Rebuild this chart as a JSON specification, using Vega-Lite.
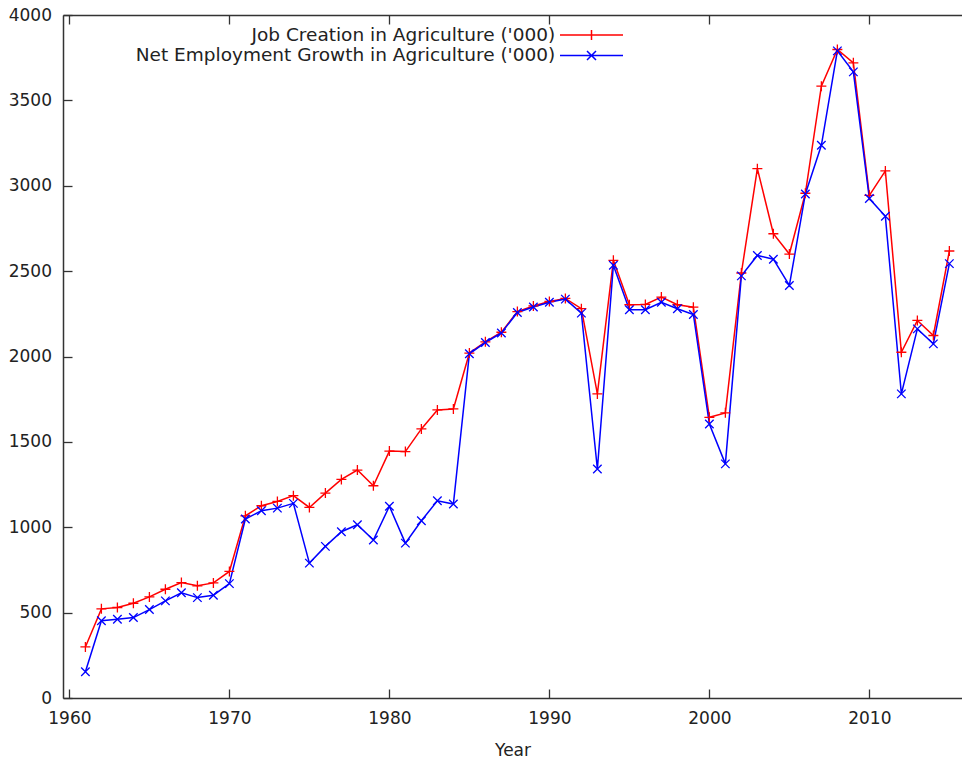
{
  "$schema": "https://vega.github.io/schema/vega-lite/v6.json",
  "width": 899,
  "height": 683,
  "autosize": {"type": "none"},
  "padding": {"left": 63, "top": 15, "right": 0, "bottom": 61},
  "background": "white",
  "config": {
    "view": {"stroke": null},
    "font": "DejaVu Sans",
    "axis": {
      "grid": false,
      "domainColor": "#333333",
      "domainWidth": 1.5,
      "tickColor": "#333333",
      "tickWidth": 1.3,
      "tickSize": -9,
      "labelFont": "DejaVu Sans",
      "labelFontSize": 17,
      "labelColor": "#222222",
      "titleFont": "DejaVu Sans",
      "titleFontSize": 17,
      "titleFontWeight": "normal",
      "titleColor": "#222222"
    }
  },
  "datasets": {
    "agri": [
      {"year": 1961, "series": "Job Creation in Agriculture ('000)", "value": 299},
      {"year": 1962, "series": "Job Creation in Agriculture ('000)", "value": 522},
      {"year": 1963, "series": "Job Creation in Agriculture ('000)", "value": 530},
      {"year": 1964, "series": "Job Creation in Agriculture ('000)", "value": 555},
      {"year": 1965, "series": "Job Creation in Agriculture ('000)", "value": 592},
      {"year": 1966, "series": "Job Creation in Agriculture ('000)", "value": 637},
      {"year": 1967, "series": "Job Creation in Agriculture ('000)", "value": 676},
      {"year": 1968, "series": "Job Creation in Agriculture ('000)", "value": 657},
      {"year": 1969, "series": "Job Creation in Agriculture ('000)", "value": 674},
      {"year": 1970, "series": "Job Creation in Agriculture ('000)", "value": 741},
      {"year": 1971, "series": "Job Creation in Agriculture ('000)", "value": 1067},
      {"year": 1972, "series": "Job Creation in Agriculture ('000)", "value": 1126},
      {"year": 1973, "series": "Job Creation in Agriculture ('000)", "value": 1151},
      {"year": 1974, "series": "Job Creation in Agriculture ('000)", "value": 1185},
      {"year": 1975, "series": "Job Creation in Agriculture ('000)", "value": 1116},
      {"year": 1976, "series": "Job Creation in Agriculture ('000)", "value": 1200},
      {"year": 1977, "series": "Job Creation in Agriculture ('000)", "value": 1280},
      {"year": 1978, "series": "Job Creation in Agriculture ('000)", "value": 1335},
      {"year": 1979, "series": "Job Creation in Agriculture ('000)", "value": 1243},
      {"year": 1980, "series": "Job Creation in Agriculture ('000)", "value": 1446},
      {"year": 1981, "series": "Job Creation in Agriculture ('000)", "value": 1443},
      {"year": 1982, "series": "Job Creation in Agriculture ('000)", "value": 1576},
      {"year": 1983, "series": "Job Creation in Agriculture ('000)", "value": 1687},
      {"year": 1984, "series": "Job Creation in Agriculture ('000)", "value": 1693},
      {"year": 1985, "series": "Job Creation in Agriculture ('000)", "value": 2020},
      {"year": 1986, "series": "Job Creation in Agriculture ('000)", "value": 2086},
      {"year": 1987, "series": "Job Creation in Agriculture ('000)", "value": 2142},
      {"year": 1988, "series": "Job Creation in Agriculture ('000)", "value": 2263},
      {"year": 1989, "series": "Job Creation in Agriculture ('000)", "value": 2296},
      {"year": 1990, "series": "Job Creation in Agriculture ('000)", "value": 2322},
      {"year": 1991, "series": "Job Creation in Agriculture ('000)", "value": 2340},
      {"year": 1992, "series": "Job Creation in Agriculture ('000)", "value": 2280},
      {"year": 1993, "series": "Job Creation in Agriculture ('000)", "value": 1781},
      {"year": 1994, "series": "Job Creation in Agriculture ('000)", "value": 2563},
      {"year": 1995, "series": "Job Creation in Agriculture ('000)", "value": 2303},
      {"year": 1996, "series": "Job Creation in Agriculture ('000)", "value": 2305},
      {"year": 1997, "series": "Job Creation in Agriculture ('000)", "value": 2348},
      {"year": 1998, "series": "Job Creation in Agriculture ('000)", "value": 2303},
      {"year": 1999, "series": "Job Creation in Agriculture ('000)", "value": 2289},
      {"year": 2000, "series": "Job Creation in Agriculture ('000)", "value": 1644},
      {"year": 2001, "series": "Job Creation in Agriculture ('000)", "value": 1670},
      {"year": 2002, "series": "Job Creation in Agriculture ('000)", "value": 2489},
      {"year": 2003, "series": "Job Creation in Agriculture ('000)", "value": 3100},
      {"year": 2004, "series": "Job Creation in Agriculture ('000)", "value": 2719},
      {"year": 2005, "series": "Job Creation in Agriculture ('000)", "value": 2600},
      {"year": 2006, "series": "Job Creation in Agriculture ('000)", "value": 2956},
      {"year": 2007, "series": "Job Creation in Agriculture ('000)", "value": 3583},
      {"year": 2008, "series": "Job Creation in Agriculture ('000)", "value": 3798},
      {"year": 2009, "series": "Job Creation in Agriculture ('000)", "value": 3720},
      {"year": 2010, "series": "Job Creation in Agriculture ('000)", "value": 2944},
      {"year": 2011, "series": "Job Creation in Agriculture ('000)", "value": 3087},
      {"year": 2012, "series": "Job Creation in Agriculture ('000)", "value": 2025},
      {"year": 2013, "series": "Job Creation in Agriculture ('000)", "value": 2211},
      {"year": 2014, "series": "Job Creation in Agriculture ('000)", "value": 2123},
      {"year": 2015, "series": "Job Creation in Agriculture ('000)", "value": 2618},
      {"year": 1961, "series": "Net Employment Growth in Agriculture ('000)", "value": 154},
      {"year": 1962, "series": "Net Employment Growth in Agriculture ('000)", "value": 452},
      {"year": 1963, "series": "Net Employment Growth in Agriculture ('000)", "value": 461},
      {"year": 1964, "series": "Net Employment Growth in Agriculture ('000)", "value": 471},
      {"year": 1965, "series": "Net Employment Growth in Agriculture ('000)", "value": 518},
      {"year": 1966, "series": "Net Employment Growth in Agriculture ('000)", "value": 569},
      {"year": 1967, "series": "Net Employment Growth in Agriculture ('000)", "value": 616},
      {"year": 1968, "series": "Net Employment Growth in Agriculture ('000)", "value": 588},
      {"year": 1969, "series": "Net Employment Growth in Agriculture ('000)", "value": 602},
      {"year": 1970, "series": "Net Employment Growth in Agriculture ('000)", "value": 670},
      {"year": 1971, "series": "Net Employment Growth in Agriculture ('000)", "value": 1048},
      {"year": 1972, "series": "Net Employment Growth in Agriculture ('000)", "value": 1097},
      {"year": 1973, "series": "Net Employment Growth in Agriculture ('000)", "value": 1112},
      {"year": 1974, "series": "Net Employment Growth in Agriculture ('000)", "value": 1140},
      {"year": 1975, "series": "Net Employment Growth in Agriculture ('000)", "value": 790},
      {"year": 1976, "series": "Net Employment Growth in Agriculture ('000)", "value": 888},
      {"year": 1977, "series": "Net Employment Growth in Agriculture ('000)", "value": 974},
      {"year": 1978, "series": "Net Employment Growth in Agriculture ('000)", "value": 1015},
      {"year": 1979, "series": "Net Employment Growth in Agriculture ('000)", "value": 925},
      {"year": 1980, "series": "Net Employment Growth in Agriculture ('000)", "value": 1123},
      {"year": 1981, "series": "Net Employment Growth in Agriculture ('000)", "value": 907},
      {"year": 1982, "series": "Net Employment Growth in Agriculture ('000)", "value": 1038},
      {"year": 1983, "series": "Net Employment Growth in Agriculture ('000)", "value": 1155},
      {"year": 1984, "series": "Net Employment Growth in Agriculture ('000)", "value": 1136},
      {"year": 1985, "series": "Net Employment Growth in Agriculture ('000)", "value": 2016},
      {"year": 1986, "series": "Net Employment Growth in Agriculture ('000)", "value": 2082},
      {"year": 1987, "series": "Net Employment Growth in Agriculture ('000)", "value": 2138},
      {"year": 1988, "series": "Net Employment Growth in Agriculture ('000)", "value": 2258},
      {"year": 1989, "series": "Net Employment Growth in Agriculture ('000)", "value": 2290},
      {"year": 1990, "series": "Net Employment Growth in Agriculture ('000)", "value": 2318},
      {"year": 1991, "series": "Net Employment Growth in Agriculture ('000)", "value": 2336},
      {"year": 1992, "series": "Net Employment Growth in Agriculture ('000)", "value": 2254},
      {"year": 1993, "series": "Net Employment Growth in Agriculture ('000)", "value": 1341},
      {"year": 1994, "series": "Net Employment Growth in Agriculture ('000)", "value": 2534},
      {"year": 1995, "series": "Net Employment Growth in Agriculture ('000)", "value": 2274},
      {"year": 1996, "series": "Net Employment Growth in Agriculture ('000)", "value": 2274},
      {"year": 1997, "series": "Net Employment Growth in Agriculture ('000)", "value": 2318},
      {"year": 1998, "series": "Net Employment Growth in Agriculture ('000)", "value": 2280},
      {"year": 1999, "series": "Net Employment Growth in Agriculture ('000)", "value": 2246},
      {"year": 2000, "series": "Net Employment Growth in Agriculture ('000)", "value": 1605},
      {"year": 2001, "series": "Net Employment Growth in Agriculture ('000)", "value": 1371},
      {"year": 2002, "series": "Net Employment Growth in Agriculture ('000)", "value": 2472},
      {"year": 2003, "series": "Net Employment Growth in Agriculture ('000)", "value": 2592},
      {"year": 2004, "series": "Net Employment Growth in Agriculture ('000)", "value": 2570},
      {"year": 2005, "series": "Net Employment Growth in Agriculture ('000)", "value": 2416},
      {"year": 2006, "series": "Net Employment Growth in Agriculture ('000)", "value": 2952},
      {"year": 2007, "series": "Net Employment Growth in Agriculture ('000)", "value": 3237},
      {"year": 2008, "series": "Net Employment Growth in Agriculture ('000)", "value": 3790},
      {"year": 2009, "series": "Net Employment Growth in Agriculture ('000)", "value": 3667},
      {"year": 2010, "series": "Net Employment Growth in Agriculture ('000)", "value": 2925},
      {"year": 2011, "series": "Net Employment Growth in Agriculture ('000)", "value": 2821},
      {"year": 2012, "series": "Net Employment Growth in Agriculture ('000)", "value": 1781},
      {"year": 2013, "series": "Net Employment Growth in Agriculture ('000)", "value": 2162},
      {"year": 2014, "series": "Net Employment Growth in Agriculture ('000)", "value": 2074},
      {"year": 2015, "series": "Net Employment Growth in Agriculture ('000)", "value": 2544}
    ]
  },
  "data": {"name": "agri"},
  "layer": [
    {
      "mark": {"type": "line", "strokeWidth": 1.5},
      "encoding": {
        "x": {
          "field": "year", "type": "quantitative",
          "scale": {"domain": [1959.6, 2015.79], "nice": false, "zero": false},
          "axis": {"orient": "bottom", "values": [1960, 1970, 1980, 1990, 2000, 2010], "format": "d", "labelPadding": 21, "title": "Year", "titleBaseline": "alphabetic", "titleY": 57, "titleAnchor": "middle"}
        },
        "y": {
          "field": "value", "type": "quantitative",
          "scale": {"domain": [0, 4000], "nice": false},
          "axis": {"values": [0, 500, 1000, 1500, 2000, 2500, 3000, 3500, 4000], "format": "d", "labelPadding": 20.5, "title": null}
        },
        "color": {
          "field": "series", "type": "nominal",
          "scale": {"domain": ["Job Creation in Agriculture ('000)", "Net Employment Growth in Agriculture ('000)"], "range": ["#ff0000", "#0000ff"]},
          "legend": {
            "orient": "none", "legendX": 519.25, "legendY": 10.8, "title": null,
            "labelAlign": "right", "labelOffset": -45.5, "labelFont": "DejaVu Sans", "labelFontSize": 18.5, "labelColor": "#222222", "labelLimit": 600,
            "symbolType": "M-6.3,0H6.3", "symbolSize": 100, "symbolStrokeWidth": 1.5, "symbolOffset": 0,
            "rowPadding": 1.4, "padding": 0,
            "encode": {"symbols": {"update": {
              "shape": {"signal": "datum.index === 0 ? 'M-6.3,0L6.3,0M0,-1L0,1' : 'M-6.3,0L6.3,0M-0.9,-0.9L0.9,0.9M-0.9,0.9L0.9,-0.9'"},
              "fill": {"value": "transparent"},
              "stroke": {"signal": "datum.index === 0 ? '#ff0000' : '#0000ff'"},
              "strokeWidth": {"value": 1.5},
              "opacity": {"value": 1}
            }}}
          }
        }
      }
    },
    {
      "transform": [{"filter": {"field": "series", "equal": "Job Creation in Agriculture ('000)"}}],
      "mark": {"type": "point", "filled": false, "strokeWidth": 1.3, "size": 100, "opacity": 1, "shape": "M-1,0L1,0M0,-1L0,1"},
      "encoding": {
        "x": {
          "field": "year", "type": "quantitative",
          "scale": {"domain": [1959.6, 2015.79], "nice": false, "zero": false},
          "axis": {"orient": "top", "values": [1960, 1970, 1980, 1990, 2000, 2010], "labels": false, "title": null}
        },
        "y": {"field": "value", "type": "quantitative", "scale": {"domain": [0, 4000], "nice": false}},
        "color": {
          "field": "series", "type": "nominal",
          "scale": {"domain": ["Job Creation in Agriculture ('000)", "Net Employment Growth in Agriculture ('000)"], "range": ["#ff0000", "#0000ff"]},
          "legend": null
        }
      }
    },
    {
      "transform": [{"filter": {"field": "series", "equal": "Net Employment Growth in Agriculture ('000)"}}],
      "mark": {"type": "point", "filled": false, "strokeWidth": 1.3, "size": 100, "opacity": 1, "shape": "M-0.85,-0.85L0.85,0.85M-0.85,0.85L0.85,-0.85"},
      "encoding": {
        "x": {
          "field": "year", "type": "quantitative",
          "scale": {"domain": [1959.6, 2015.79], "nice": false, "zero": false},
          "axis": null
        },
        "y": {"field": "value", "type": "quantitative", "scale": {"domain": [0, 4000], "nice": false}},
        "color": {
          "field": "series", "type": "nominal",
          "scale": {"domain": ["Job Creation in Agriculture ('000)", "Net Employment Growth in Agriculture ('000)"], "range": ["#ff0000", "#0000ff"]},
          "legend": null
        }
      }
    }
  ],
  "resolve": {"axis": {"x": "independent"}}
}
